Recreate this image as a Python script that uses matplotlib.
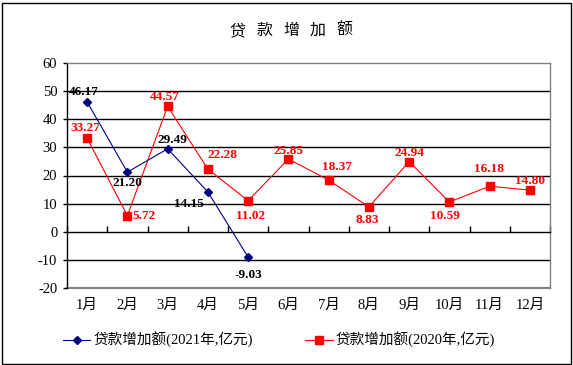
import matplotlib
matplotlib.use("Agg")
import matplotlib.pyplot as plt
from matplotlib.patches import Rectangle
from matplotlib.lines import Line2D
import matplotlib.transforms as mtransforms

months = ["1月", "2月", "3月", "4月", "5月", "6月", "7月", "8月", "9月", "10月", "11月", "12月"]
loans_2021 = [46.17, 21.20, 29.49, 14.15, -9.03]
loans_2020 = [33.27, 5.72, 44.57, 22.28, 11.02, 25.85, 18.37, 8.83, 24.94, 10.59, 16.18, 14.80]
yticks = [-20, -10, 0, 10, 20, 30, 40, 50, 60]
name_2021 = "贷款增加额(2021年,亿元)"
name_2020 = "贷款增加额(2020年,亿元)"
title = "贷 款 增 加 额"

# label offsets in pixels (dx, dy), dy positive = up
off_2021 = [(-3, 10), (0, -11), (5, 9), (-19, -12), (0, -18)]
off_2020 = [(-2, 10), (17, 0), (-3, 9), (15, 14), (2, -15), (0, 8),
            (8, 13), (-2, -13), (0, 9), (-4, -14), (-1, 17), (0, 9)]

MIX = ['Liberation Serif', 'Noto Sans CJK SC']
W, H = 573, 365
fig = plt.figure(figsize=(W / 100, H / 100), dpi=100)
fig.patch.set_facecolor('white')

# outer border
fig.patches.append(Rectangle((1.5 / W, 1.5 / H), (W - 4) / W, (H - 4) / H,
                             transform=fig.transFigure, fill=False,
                             edgecolor='black', lw=1.0))

L, R, T, B = 67, 550, 63, 288
ax = fig.add_axes([L / W, (H - B) / H, (R - L) / W, (B - T) / H])
ax.set_xlim(-0.5, 11.5)
ax.set_ylim(-20, 60)

for s in ['top', 'right']:
    ax.spines[s].set_color('#808080')
    ax.spines[s].set_linewidth(1.0)
ax.spines['left'].set_color('black')
ax.spines['left'].set_linewidth(1.0)
ax.spines['bottom'].set_position(('data', 0))
ax.spines['bottom'].set_color('black')
ax.spines['bottom'].set_linewidth(1.0)
ax.axhline(-20, color='#808080', lw=1.5, clip_on=False, zorder=1)

for y in [-10, 10, 20, 30, 40, 50]:
    ax.axhline(y, color='black', lw=1.0, zorder=1)

ax.set_yticks(yticks)
ax.set_yticklabels([str(v) for v in yticks], family='Liberation Serif', fontsize=10.5)
ax.tick_params(axis='y', length=3, width=1, pad=4, direction='out')

ax.set_xticks([i + 0.5 for i in range(-1, 12)])
ax.set_xticklabels([])
ax.tick_params(axis='x', direction='in', length=4, width=1)

trans = mtransforms.blended_transform_factory(ax.transData, fig.transFigure)
for i, m in enumerate(months):
    ax.text(i, (H - 305) / H, m, transform=trans, ha='center', va='center',
            family=MIX, fontsize=10.5, color='black')

x21 = list(range(len(loans_2021)))
x20 = list(range(len(loans_2020)))
ax.plot(x20, loans_2020, color='#FF0000', lw=0.8, marker='s', markersize=5.5,
        markerfacecolor='#FF0000', markeredgecolor='#FF0000', zorder=3)
ax.plot(x21, loans_2021, color='#000080', lw=0.8, marker='D', markersize=4.5,
        markerfacecolor='#000080', markeredgecolor='#000080', zorder=4)

for x, v, (dx, dy) in zip(x21, loans_2021, off_2021):
    ax.annotate(f"{v:.2f}", (x, v), xytext=(dx, dy), textcoords='offset pixels',
                ha='center', va='center', family='Liberation Serif', fontweight='bold',
                fontsize=9.5, color='black', zorder=5)
for x, v, (dx, dy) in zip(x20, loans_2020, off_2020):
    ha = 'left' if dx > 12 and dy == 0 else 'center'
    ddx = 5 if ha == 'left' else dx
    ax.annotate(f"{v:.2f}", (x, v), xytext=(ddx, dy), textcoords='offset pixels',
                ha=ha, va='center', family='Liberation Serif', fontweight='bold',
                fontsize=9.5, color='#FF0000', zorder=5)

# title, characters spread out as in the reference
title_chars = title.split(" ")
for i, ch in enumerate(title_chars):
    fig.text((237.5 + i * 26.75) / W, (H - 31) / H, ch, ha='center', va='center',
             family=MIX, fontsize=11.5, color='black')

h1 = Line2D([], [], color='#000080', lw=0.8, marker='D', markersize=4.5)
h2 = Line2D([], [], color='#FF0000', lw=0.8, marker='s', markersize=5.5)
leg = fig.legend([h1, h2], [name_2021, name_2020], loc='center',
                 bbox_to_anchor=(279 / W, (H - 340) / H), ncol=2, frameon=False,
                 handlelength=1.9, handletextpad=0.2, columnspacing=3.6,
                 prop={'family': MIX, 'size': 10.5})

fig.savefig('out.png', dpi=100)
